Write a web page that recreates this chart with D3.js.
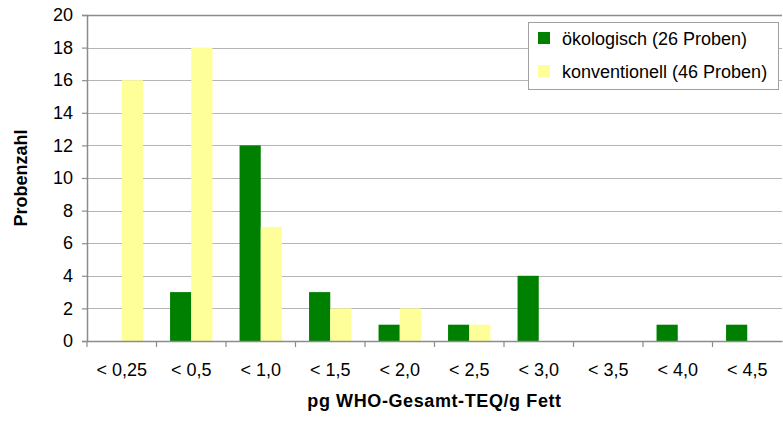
<!DOCTYPE html>
<html>
<head>
<meta charset="utf-8">
<script src="https://cdn.jsdelivr.net/npm/d3@7"></script>
<style>
  body { margin: 0; background: #fff; }
  svg { display: block; font-family: "Liberation Sans", Arial, sans-serif; }
</style>
</head>
<body>
<div id="chart"></div>
<script>
// Daten
const categories = ["< 0,25", "< 0,5", "< 1,0", "< 1,5", "< 2,0", "< 2,5", "< 3,0", "< 3,5", "< 4,0", "< 4,5"];
const oekologisch = [0, 3, 12, 3, 1, 1, 4, 0, 1, 1];
const konventionell = [16, 18, 7, 2, 2, 1, 0, 0, 0, 0];
const seriesNames = ["ökologisch (26 Proben)", "konventionell (46 Proben)"];
const seriesColors = ["#008000", "#ffff99"];
const yTicks = [0, 2, 4, 6, 8, 10, 12, 14, 16, 18, 20];

const width = 783;
const height = 423;
const margin = { top: 15, right: 1, bottom: 82, left: 87 };

const svg = d3.select("#chart").append("svg")
  .attr("width", width)
  .attr("height", height);

const x0 = d3.scaleBand()
  .domain(categories)
  .range([margin.left, width - margin.right]);

const bw = x0.bandwidth();
const x1 = d3.scaleBand()
  .domain([0, 1])
  .range([bw * 0.195, bw * 0.805]);

const y = d3.scaleLinear()
  .domain([0, 20])
  .range([height - margin.bottom, margin.top]);

// Gitterlinien
svg.append("g")
  .selectAll("line")
  .data(yTicks.filter(d => d > 0))
  .join("line")
  .attr("x1", margin.left)
  .attr("x2", width - margin.right)
  .attr("y1", d => Math.round(y(d)) + 0.5)
  .attr("y2", d => Math.round(y(d)) + 0.5)
  .attr("stroke", d => d === 20 ? "#8c8c8c" : "#b4b4b4")
  .attr("stroke-width", d => d === 20 ? 1.5 : 1.2);

// Balken
const rows = categories.map((c, i) => ({ cat: c, values: [oekologisch[i], konventionell[i]] }));

svg.append("g")
  .selectAll("g")
  .data(rows)
  .join("g")
  .attr("transform", d => `translate(${x0(d.cat)},0)`)
  .selectAll("rect")
  .data(d => d.values.map((v, s) => ({ s, v })))
  .join("rect")
  .attr("x", d => x1(d.s))
  .attr("width", x1.bandwidth())
  .attr("y", d => y(d.v))
  .attr("height", d => y(0) - y(d.v))
  .attr("fill", d => seriesColors[d.s]);

// y-Achse
const yAxis = svg.append("g")
  .attr("transform", `translate(${margin.left},0)`)
  .call(d3.axisLeft(y).tickValues(yTicks).tickSize(5).tickPadding(9));
yAxis.select(".domain").attr("stroke", "#8c8c8c").attr("stroke-width", 1.5);
yAxis.selectAll(".tick line").attr("stroke", "#8c8c8c").attr("stroke-width", 1.2);
yAxis.selectAll(".tick text")
  .attr("font-size", 18)
  .attr("font-family", "Liberation Sans, Arial, sans-serif")
  .attr("fill", "#000");

// x-Achse
const xAxis = svg.append("g")
  .attr("transform", `translate(0,${y(0)})`)
  .call(d3.axisBottom(x0).tickSize(0).tickPadding(22));
xAxis.select(".domain").attr("stroke", "#8c8c8c").attr("stroke-width", 1.5);
xAxis.selectAll(".tick text")
  .attr("font-size", 18)
  .attr("font-family", "Liberation Sans, Arial, sans-serif")
  .attr("fill", "#000");

// Trennstriche zwischen den Kategorien
svg.append("g")
  .selectAll("line")
  .data(categories)
  .join("line")
  .attr("x1", d => x0(d))
  .attr("x2", d => x0(d))
  .attr("y1", y(0))
  .attr("y2", y(0) + 6)
  .attr("stroke", "#8c8c8c")
  .attr("stroke-width", 1.2);

// Achsentitel
svg.append("text")
  .attr("x", (margin.left + width - margin.right) / 2)
  .attr("y", 407)
  .attr("text-anchor", "middle")
  .attr("font-size", 18)
  .attr("font-weight", "bold")
  .attr("letter-spacing", 0.6)
  .text("pg WHO-Gesamt-TEQ/g Fett");

svg.append("text")
  .attr("transform", `translate(27,${(margin.top + y(0)) / 2}) rotate(-90)`)
  .attr("text-anchor", "middle")
  .attr("font-size", 18)
  .attr("font-weight", "bold")
  .text("Probenzahl");

// Legende
const legend = svg.append("g").attr("transform", "translate(528,22)");
legend.append("rect")
  .attr("x", 0.5).attr("y", 0.5)
  .attr("width", 250).attr("height", 67)
  .attr("fill", "#fff")
  .attr("stroke", "#a0a0a0");

const item = legend.selectAll("g")
  .data(seriesNames)
  .join("g")
  .attr("transform", (d, i) => `translate(0,${10 + i * 33})`);
item.append("rect")
  .attr("x", 10).attr("y", 0)
  .attr("width", 12).attr("height", 12)
  .attr("fill", (d, i) => seriesColors[i]);
item.append("text")
  .attr("x", 34).attr("y", 13)
  .attr("font-size", 18)
  .text(d => d);
</script>
</body>
</html>
